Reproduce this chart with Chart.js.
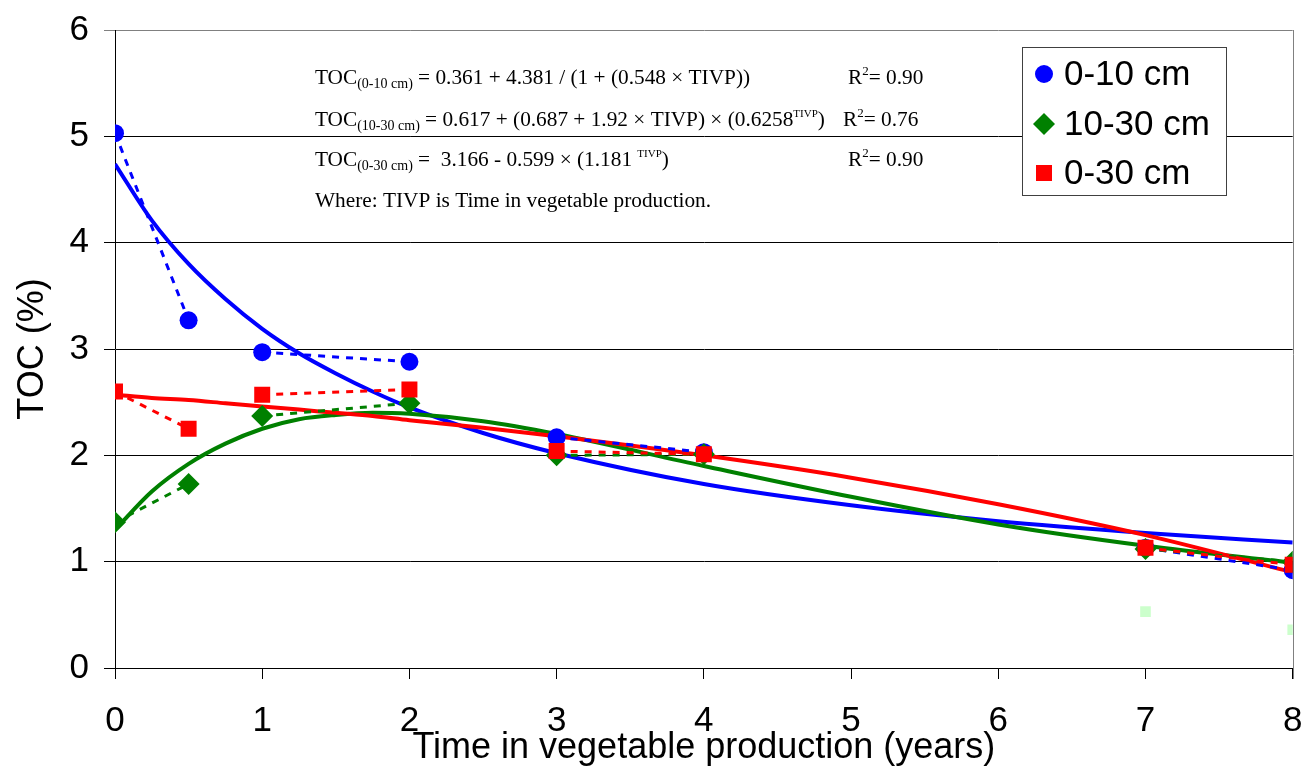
<!DOCTYPE html>
<html>
<head>
<meta charset="utf-8">
<title>TOC vs time in vegetable production</title>
<script src="https://cdn.jsdelivr.net/npm/chart.js@4/dist/chart.umd.min.js"></script>
<style>
  html, body { margin: 0; padding: 0; background: #ffffff; }
  #wrap { width: 1304px; height: 776px; position: relative; }
</style>
</head>
<body>
<div id="wrap"><canvas id="toc" width="1304" height="776"></canvas></div>
<script>
// Observed TOC (%) by depth and years in vegetable production
const years = [0, 0.5, 1, 2, 3, 4, 7, 8];
const toc0to10 = [5.03, 3.27, 2.97, 2.88, 2.17, 2.03, 1.13, 0.92];
const toc10to30 = [1.37, 1.73, 2.37, 2.49, 2.00, 2.01, 1.12, 1.00];
const toc0to30 = [2.60, 2.25, 2.57, 2.62, 2.04, 2.01, 1.13, 0.97];

// Extra pale markers near the bottom right
const extraYears = [7, 8];
const extraToc = [0.53, 0.36];

// Fitted regression curves (values along the time axis)
const fitYears = [0, 0.25, 0.5, 0.75, 1, 1.25, 1.5, 1.75, 2, 2.5, 3, 4, 5, 6, 7, 8];
const fit0to10 = [4.74, 4.21, 3.80, 3.47, 3.19, 2.96, 2.77, 2.60, 2.45, 2.21, 2.02, 1.73, 1.53, 1.38, 1.27, 1.18];
const fit10to30 = [1.30, 1.66, 1.92, 2.11, 2.25, 2.34, 2.38, 2.40, 2.39, 2.32, 2.20, 1.90, 1.61, 1.35, 1.15, 0.99];
const fit0to30 = [2.57, 2.54, 2.52, 2.49, 2.46, 2.43, 2.40, 2.37, 2.33, 2.26, 2.18, 2.00, 1.79, 1.54, 1.25, 0.90];

const seriesLabels = ['0-10 cm', '10-30 cm', '0-30 cm'];
const xTicks = [0, 1, 2, 3, 4, 5, 6, 7, 8];
const yTicks = [0, 1, 2, 3, 4, 5, 6];

const BLUE = '#0000ff', GREEN = '#008000', RED = '#ff0000', PALE = '#ccffcc';
const SANS = '"Liberation Sans", Arial, sans-serif';
const SERIF = '"Liberation Serif", "Times New Roman", serif';

const xy = (xs, ys) => xs.map((x, i) => ({ x: x, y: ys[i] }));

// Dashed links join observations in pairs: (0,0.5), (1,2), (3,4), (7,8)
const pairedSegments = {
  borderColor: ctx => (ctx.p0DataIndex % 2 === 1 ? 'rgba(0,0,0,0)' : undefined)
};

function observed(label, ys, color, style, radius, order) {
  return {
    label: label,
    data: xy(years, ys),
    borderColor: color,
    backgroundColor: color,
    borderWidth: 3,
    borderDash: [7, 7],
    tension: 0,
    pointStyle: style,
    pointRadius: radius,
    pointBackgroundColor: color,
    pointBorderColor: color,
    pointBorderWidth: 0,
    segment: pairedSegments,
    order: order
  };
}

function fitted(ys, color, order) {
  return {
    label: 'fit',
    data: xy(fitYears, ys),
    borderColor: color,
    borderWidth: 4,
    pointRadius: 0,
    cubicInterpolationMode: 'monotone',
    fill: false,
    order: order
  };
}

// Regression equations printed in the upper plot area
const equations = [
  { y: 84, parts: [['TOC', 'n'], ['(0-10 cm)', 'sub'], [' = 0.361 + 4.381 / (1 + (0.548 \u00d7 TIVP))', 'n']], rx: 848, r2: '= 0.90' },
  { y: 126, parts: [['TOC', 'n'], ['(10-30 cm)', 'sub'], [' = 0.617 + (0.687 + 1.92 \u00d7 TIVP) \u00d7 (0.6258', 'n'], ['TIVP', 'sup'], [')', 'n']], rx: 843, r2: '= 0.76' },
  { y: 166, parts: [['TOC', 'n'], ['(0-30 cm)', 'sub'], [' =  3.166 - 0.599 \u00d7 (1.181 ', 'n'], ['TIVP', 'sup'], [')', 'n']], rx: 848, r2: '= 0.90' },
  { y: 207, parts: [['Where: TIVP is Time in vegetable production.', 'n']] }
];

const runFont = {
  n: { size: 21.3, dy: 0 },
  sub: { size: 14, dy: 4 },
  sup: { size: 11, dy: -9 },
  r2: { size: 13, dy: -9 }
};

function drawRuns(ctx, x, y, parts) {
  for (const [text, kind] of parts) {
    const f = runFont[kind];
    ctx.font = f.size + 'px ' + SERIF;
    ctx.fillText(text, x, y + f.dy);
    x += ctx.measureText(text).width;
  }
  return x;
}

function drawMarker(ctx, style, x, y, r, color) {
  ctx.fillStyle = color;
  ctx.beginPath();
  if (style === 'circle') {
    ctx.arc(x, y, r, 0, Math.PI * 2);
  } else if (style === 'rectRot') {
    ctx.moveTo(x - r, y); ctx.lineTo(x, y - r); ctx.lineTo(x + r, y); ctx.lineTo(x, y + r);
    ctx.closePath();
  } else {
    const h = r * Math.SQRT1_2;
    ctx.rect(x - h, y - h, 2 * h, 2 * h);
  }
  ctx.fill();
}

const decorations = {
  id: 'decorations',
  afterDraw(chart) {
    const ctx = chart.ctx;
    const a = chart.chartArea;
    ctx.save();

    // right frame line
    ctx.strokeStyle = '#808080';
    ctx.lineWidth = 1;
    ctx.beginPath();
    ctx.moveTo(Math.round(a.right) + 0.5, a.top);
    ctx.lineTo(Math.round(a.right) + 0.5, a.bottom + 11);
    ctx.stroke();

    // equations
    ctx.fillStyle = '#000';
    ctx.textBaseline = 'alphabetic';
    ctx.textAlign = 'left';
    for (const eq of equations) {
      drawRuns(ctx, 315, eq.y, eq.parts);
      if (eq.r2) drawRuns(ctx, eq.rx, eq.y, [['R', 'n'], ['2', 'r2'], [eq.r2, 'n']]);
    }

    // legend box
    const box = { x: 1022, y: 47, w: 204, h: 148 };
    ctx.fillStyle = '#fff';
    ctx.fillRect(box.x, box.y, box.w, box.h);
    ctx.strokeStyle = '#404040';
    ctx.strokeRect(box.x + 0.5, box.y + 0.5, box.w, box.h);
    const rowsY = [74, 124, 173];
    chart.data.datasets.filter(d => seriesLabels.includes(d.label)).forEach((d, i) => {
      drawMarker(ctx, d.pointStyle, 1044, rowsY[i], d.pointRadius, d.pointBackgroundColor);
      ctx.fillStyle = '#000';
      ctx.font = '35px ' + SANS;
      ctx.textBaseline = 'middle';
      ctx.fillText(d.label, 1064, rowsY[i] + 1);
    });
    ctx.restore();
  }
};

new Chart(document.getElementById('toc'), {
  type: 'line',
  data: {
    datasets: [
      observed(seriesLabels[0], toc0to10, BLUE, 'circle', 9, 3),
      observed(seriesLabels[1], toc10to30, GREEN, 'rectRot', 11, 2),
      observed(seriesLabels[2], toc0to30, RED, 'rect', 11.3, 1),
      {
        label: 'other',
        data: xy(extraYears, extraToc),
        showLine: false,
        pointStyle: 'rect',
        pointRadius: 7.5,
        pointBackgroundColor: PALE,
        pointBorderWidth: 0,
        order: 4
      },
      fitted(fit0to10, BLUE, 7),
      fitted(fit10to30, GREEN, 6),
      fitted(fit0to30, RED, 5)
    ]
  },
  options: {
    responsive: false,
    animation: false,
    devicePixelRatio: 1,
    events: [],
    layout: { padding: 0 },
    plugins: { legend: { display: false }, tooltip: { enabled: false } },
    scales: {
      x: {
        type: 'linear',
        min: xTicks[0],
        max: xTicks[xTicks.length - 1],
        afterBuildTicks: s => { s.ticks = xTicks.map(v => ({ value: v })); },
        afterFit: s => { s.height = 108; s.paddingLeft = 0; s.paddingRight = 7; },
        ticks: { color: '#000', font: { family: SANS, size: 35 }, padding: 21, maxRotation: 0, autoSkip: false },
        grid: { drawOnChartArea: false, drawTicks: true, tickLength: 11, color: '#000' },
        border: { color: '#000', width: 1 },
        title: { display: true, text: 'Time in vegetable production (years)', color: '#000', font: { family: SANS, size: 36 }, padding: { top: 0, bottom: 6 } }
      },
      y: {
        min: yTicks[0],
        max: yTicks[yTicks.length - 1],
        afterBuildTicks: s => { s.ticks = yTicks.map(v => ({ value: v })); },
        afterFit: s => { s.width = 115; s.paddingTop = 30; s.paddingBottom = 0; },
        ticks: { color: '#000', font: { family: SANS, size: 35 }, padding: 15 },
        grid: { color: c => (c.tick && c.tick.value === yTicks[yTicks.length - 1] ? '#808080' : '#000'), tickLength: 11 },
        border: { color: '#000', width: 1 },
        title: { display: true, text: 'TOC (%)', color: '#000', font: { family: SANS, size: 36 }, padding: { top: 11, bottom: 0 } }
      }
    }
  },
  plugins: [decorations]
});
</script>
</body>
</html>
